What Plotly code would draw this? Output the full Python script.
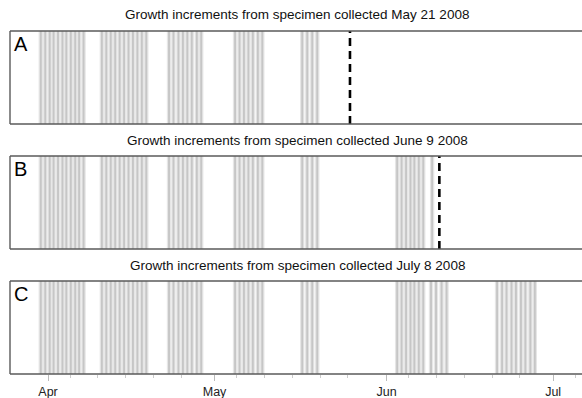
import pandas as pd
import plotly.graph_objects as go

# Growth increment positions, as day of year 2008 (fractional)
inc_apr1 = [90.7, 91.5, 92.3, 93.0, 93.8, 94.6, 95.3, 96.1, 96.9, 97.6, 98.4]
inc_apr2 = [101.7, 102.5, 103.3, 104.1, 104.9, 105.7, 106.5, 107.3, 108.1, 108.9, 109.7]
inc_apr3 = [113.8, 114.6, 115.5, 116.3, 117.1, 117.9, 118.8, 119.6]
inc_may1 = [125.7, 126.5, 127.3, 128.1, 128.9, 129.8, 130.6]
inc_may2 = [137.8, 138.7, 139.6, 140.5]
inc_jun1 = [154.9, 155.7, 156.5, 157.3, 158.0, 158.8, 159.6]
inc_jun2_b = [161.2]
inc_jun2_c = [161.0, 161.9, 162.9, 163.8]
inc_jun3 = [172.9, 173.8, 174.6, 175.5, 176.3, 177.2, 178.0, 178.9, 179.7]

panel_letters = ["A", "B", "C"]
panel_titles = [
    "Growth increments from specimen collected May 21 2008",
    "Growth increments from specimen collected June 9 2008",
    "Growth increments from specimen collected July 8 2008",
]
panel_increments = [
    inc_apr1 + inc_apr2 + inc_apr3 + inc_may1 + inc_may2,
    inc_apr1 + inc_apr2 + inc_apr3 + inc_may1 + inc_may2 + inc_jun1 + inc_jun2_b,
    inc_apr1 + inc_apr2 + inc_apr3 + inc_may1 + inc_may2 + inc_jun1 + inc_jun2_c + inc_jun3,
]
# Collection marker (day of year), none for the last specimen
collection_doy = [146.4, 162.5, None]

month_dates = ["2008-04-01", "2008-05-01", "2008-06-01", "2008-07-01"]
month_labels = ["Apr", "May", "Jun", "Jul"]
minor_dates = ["2008-03-25", "2008-04-05", "2008-04-10", "2008-04-15", "2008-04-20", "2008-04-25",
               "2008-05-05", "2008-05-10", "2008-05-15", "2008-05-20", "2008-05-25",
               "2008-06-05", "2008-06-10", "2008-06-15", "2008-06-20", "2008-06-25",
               "2008-07-05"]

month_doy = [pd.Timestamp(d).dayofyear for d in month_dates]
minor_doy = [pd.Timestamp(d).dayofyear for d in minor_dates]

W, H = 582, 398
x_range = [85.15, 188.2]
# panel top / bottom in pixels
panel_px = [(31, 124), (156, 249), (281, 374)]

fig = go.Figure()
for i in range(3):
    xs, ys = [], []
    for v in panel_increments[i]:
        xs += [v, v, None]
        ys += [0, 1, None]
    sfx = "" if i == 0 else str(i + 1)
    # soft halo under each increment line, then the line itself
    for col, wid in [("#e6e6e6", 4.4), ("#c6c6c6", 1.9)]:
        fig.add_trace(go.Scatter(x=xs, y=ys, mode="lines",
                                 line=dict(color=col, width=wid),
                                 xaxis="x" + sfx, yaxis="y" + sfx,
                                 showlegend=False, hoverinfo="skip"))
    if collection_doy[i] is not None:
        c = collection_doy[i]
        fig.add_trace(go.Scatter(x=[c, c], y=[0, 1], mode="lines",
                                 line=dict(color="black", width=2.6, dash="8px,5px"),
                                 xaxis="x" + sfx, yaxis="y" + sfx,
                                 showlegend=False, hoverinfo="skip"))

    top, bot = panel_px[i]
    dom = [1 - bot / H, 1 - top / H]
    last = i == 2
    fig.layout["xaxis" + sfx] = dict(
        domain=[10 / W, 1], range=x_range, showgrid=False, zeroline=False,
        showline=False, tickvals=month_doy if last else [],
        ticktext=month_labels if last else None,
        showticklabels=last, ticks="outside" if last else "",
        ticklen=6, tickcolor="#bbbbbb", tickwidth=1,
        minor=dict(tickvals=minor_doy, ticks="outside", ticklen=3,
                   tickcolor="#cccccc") if last else None,
        tickfont=dict(family="Liberation Sans, Arial", size=12.5, color="#222"),
        anchor="y" + sfx,
    )
    fig.layout["yaxis" + sfx] = dict(
        domain=dom, range=[0, 1], showgrid=False, zeroline=False,
        showline=False, showticklabels=False, ticks="", anchor="x" + sfx,
    )
    xd, yd = ("x" if i == 0 else "x" + sfx), ("y" if i == 0 else "y" + sfx)
    # panel frame: left, top, bottom
    for (x0, y0, x1, y1) in [(0, 0, 0, 1), (0, 1, 1.01, 1), (0, 0, 1.01, 0)]:
        fig.add_shape(type="line", xref=xd + " domain", yref=yd + " domain",
                      x0=x0, y0=y0, x1=x1, y1=y1,
                      line=dict(color="#5a5a5a", width=1.4))
    fig.add_annotation(text=panel_letters[i], xref=xd + " domain", yref=yd + " domain",
                       x=0.004, y=1.0, xanchor="left", yanchor="top", showarrow=False,
                       font=dict(family="Liberation Sans, Arial", size=20, color="black"))
    fig.add_annotation(text=panel_titles[i], xref="paper", yref="paper",
                       x=297 / W, y=1 - (top - 16) / H, xanchor="center", yanchor="middle",
                       showarrow=False,
                       font=dict(family="Liberation Sans, Arial", size=13.5, color="#111"))

fig.update_layout(width=W, height=H, margin=dict(l=0, r=0, t=0, b=0),
                  paper_bgcolor="white", plot_bgcolor="white")
fig.write_html("out.html")
